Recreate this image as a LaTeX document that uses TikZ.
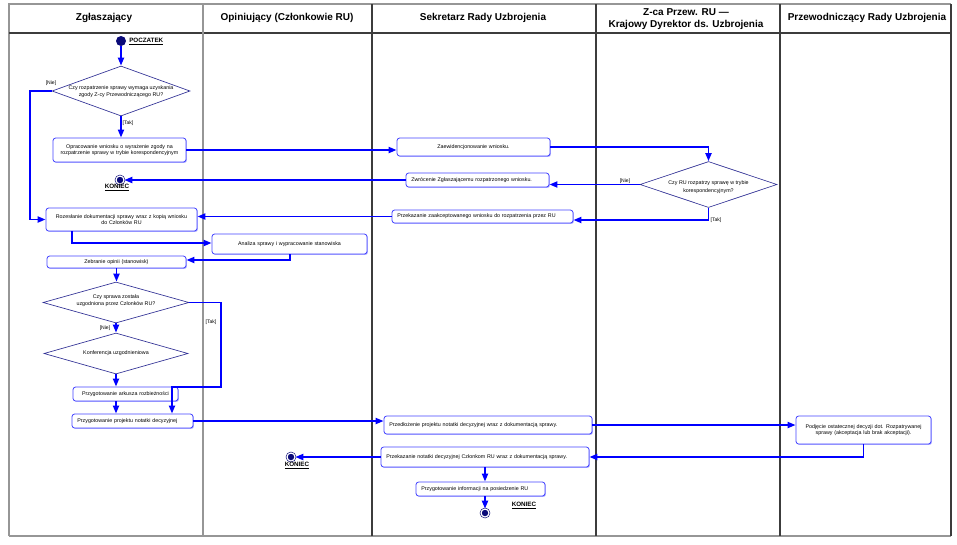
\documentclass[tikz,border=0pt]{standalone}
\usepackage{fontspec}
\setmainfont{Liberation Sans}
\usetikzlibrary{shapes.geometric,arrows.meta,shadows}
\definecolor{flowblue}{RGB}{0,0,255}
\definecolor{boxblue}{RGB}{70,70,255}
\definecolor{boxshade}{RGB}{175,175,255}
\definecolor{diaedge}{RGB}{50,50,150}
\definecolor{dotnavy}{RGB}{10,10,120}
\definecolor{lanegray}{RGB}{150,150,150}
\definecolor{lanedark}{RGB}{60,60,60}
\begin{document}
\begin{tikzpicture}[x=0.75pt,y=-0.75pt,
  hdr/.style={font=\fontsize{7.5}{9}\selectfont\bfseries, align=center, inner sep=0pt},
  box/.style={draw=boxblue, line width=0.6pt, rounded corners=2pt, fill=white,
    inner xsep=4pt, inner ysep=0pt, align=center, font=\fontsize{4}{5}\selectfont,
    drop shadow={shadow xshift=0.7pt, shadow yshift=-0.7pt, fill=boxshade, opacity=1}},
  boxL/.style={box, align=left},
  dia/.style={diamond, draw=diaedge, line width=0.5pt, inner sep=0pt},
  dtext/.style={align=center, inner sep=0pt, font=\fontsize{4}{5.5}\selectfont},
  startdot/.style={circle, fill=dotnavy, inner sep=0pt, minimum size=7.5pt},
  enddot/.style={circle, draw=dotnavy, fill=dotnavy, inner sep=0pt, minimum size=6pt,
    line width=0.45pt, double=white, double distance=0.9pt},
  endlbl/.style={font=\fontsize{4.7}{5}\selectfont\bfseries, inner sep=0pt},
  guard/.style={font=\fontsize{3.8}{4.5}\selectfont, inner sep=0pt},
  flow/.style={draw=flowblue, line width=1.4pt, -{Triangle[length=6pt,width=4.5pt]}}
]
\useasboundingbox[fill=white] (0,0) rectangle (957,544);

% frame and lanes
\draw[lanegray, line width=1.3pt] (9,536) -- (9,4) -- (951,4);
\draw[lanegray, line width=1.3pt] (9,536) -- (951,536);
\draw[lanedark, line width=0.9pt] (951,4) -- (951,536);
\draw[lanedark, line width=0.8pt] (9,33) -- (951,33);
\draw[lanegray, line width=1.5pt] (203,4) -- (203,536);
\draw[lanedark, line width=0.8pt] (372,4) -- (372,536);
\draw[lanedark, line width=0.8pt] (596,4) -- (596,536);
\draw[lanedark, line width=0.8pt] (780,4) -- (780,536);

% headers
\node[hdr] (h1) at (104,18) {Zgłaszający};
\node[hdr] (h2) at (287,18) {Opiniujący (Członkowie RU)};
\node[hdr] (h3) at (483,18) {Sekretarz Rady Uzbrojenia};
\node[hdr] (h4) at (686,19.5) {Z-ca Przew. RU —\\Krajowy Dyrektor ds. Uzbrojenia};
\node[hdr] (h5) at (867,18) {Przewodniczący Rady Uzbrojenia};

% start
\node[startdot] (start) at (121,41) {};
\node[endlbl, anchor=west] (poczL) at (129,42) {\underline{POCZATEK}};

% diamonds
\node[dia, minimum width=103.5pt, minimum height=37.5pt] (d1) at (121,91) {};
\node[dtext] (d1t) at (121,91.5) {Czy rozpatrzenie sprawy wymaga uzyskania\\zgody Z-cy Przewodniczącego RU?};
\node[dia, minimum width=109.5pt, minimum height=30.75pt] (d2) at (116,302.5) {};
\node[dtext] (d2t) at (116,300.5) {Czy sprawa została\\uzgodniona przez Członków RU?};
\node[dia, minimum width=108pt, minimum height=30.75pt] (d3) at (116,353.5) {};
\node[dtext] (d3t) at (116,353.5) {Konferencja uzgodnieniowa};
\node[dia, minimum width=102.75pt, minimum height=34.5pt] (d4) at (708.5,184.5) {};
\node[dtext] (d4t) at (708.5,187) {Czy RU rozpatrzy sprawę w trybie\\korespondencyjnym?};

% boxes
\node[box, text width=91.75pt, minimum height=18pt] (opr) at (119.5,150) {Opracowanie wniosku o wyrażenie zgody na\\rozpatrzenie sprawy w trybie korespondencyjnym};
\node[box, text width=105.25pt, minimum height=17.25pt] (roz) at (121.5,219.5) {Rozesłanie dokumentacji sprawy wraz z kopią wniosku\\do Członków RU};
\node[box, text width=108.25pt, minimum height=15pt] (ana) at (289.5,244) {Analiza sprawy i wypracowanie stanowiska};
\node[box, text width=96.25pt, minimum height=9pt] (zeb) at (116.5,262) {Zebranie opinii (stanowisk)};
\node[box, text width=70.75pt, minimum height=10.5pt] (ark) at (125.5,394) {Przygotowanie arkusza rozbieżności};
\node[boxL, text width=82.75pt, minimum height=10.5pt] (proj) at (132.5,421) {Przygotowanie projektu notatki decyzyjnej};
\node[box, text width=106.75pt, minimum height=13.5pt] (zaew) at (473.5,147) {Zaewidencjonowanie wniosku.};
\node[boxL, text width=99.25pt, minimum height=10.5pt] (zwr) at (477.5,180) {Zwrócenie Zgłaszającemu rozpatrzonego wniosku.};
\node[boxL, text width=127.75pt, minimum height=9.75pt] (przek) at (482.5,216.5) {Przekazanie zaakceptowanego wniosku do rozpatrzenia przez RU};
\node[boxL, text width=148pt, minimum height=13.5pt] (przed) at (488,425) {Przedłożenie projektu notatki decyzyjnej wraz z dokumentacją sprawy.};
\node[boxL, text width=148pt, minimum height=15pt] (notat) at (485,457) {Przekazanie notatki decyzyjnej Członkom RU wraz z dokumentacją sprawy.};
\node[boxL, text width=88.75pt, minimum height=10.5pt] (info) at (480.5,489) {Przygotowanie informacji na posiedzenie RU};
\node[box, text width=93.25pt, minimum height=21pt] (podj) at (863.5,430) {Podjęcie ostatecznej decyzji dot. Rozpatrywanej\\sprawy (akceptacja lub brak akceptacji).};

% ends
\node[enddot] (end1) at (120,180) {};
\node[endlbl] (end1L) at (117,188) {\underline{KONIEC}};
\node[enddot] (end2) at (291,457) {};
\node[endlbl] (end2L) at (297,466) {\underline{KONIEC}};
\node[enddot] (end3) at (485,513) {};
\node[endlbl] (end3L) at (524,506) {\underline{KONIEC}};

% guards
\node[guard] (g1) at (51,83) {[Nie]};
\node[guard] (g2) at (128,123) {[Tak]};
\node[guard] (g3) at (211,322) {[Tak]};
\node[guard] (g4) at (105,328) {[Nie]};
\node[guard] (g5) at (625,181) {[Nie]};
\node[guard] (g6) at (716,220) {[Tak]};

% helper coordinates
\coordinate (nieA) at (30,91);
\coordinate (k4) at (708.5,220);
\coordinate (r1) at (72,243);
\coordinate (a1) at (290,260);
\coordinate (t1) at (221,302.5);
\coordinate (t2) at (172,387);

% connectors
\draw[flow] (start) -- (d1.north);
\draw[flow] (d1.west) -- (nieA) |- (roz.west);
\draw[flow] (d1.south) -- (d1.south |- opr.north);
\draw[flow] (opr.east) -- (opr.east -| zaew.west);
\draw[flow] (zaew.east) -| (d4.north);
\draw[flow] (d4.west) -- (d4.west -| zwr.east);
\draw[flow] (zwr.west) -- (end1.east);
\draw[flow] (d4.south) -- (k4) -- (k4 -| przek.east);
\draw[flow] (przek.west) -- (przek.west -| roz.east);
\draw[flow] (r1 |- roz.south) -- (r1) -- (r1 -| ana.west);
\draw[flow] (a1 |- ana.south) -- (a1) -- (a1 -| zeb.east);
\draw[flow] (zeb.south) -- (zeb.south |- d2.north);
\draw[flow] (d2.south) -- (d3.north);
\draw[flow] (d2.east) -- (t1) |- (t2) -- (t2 |- proj.north);
\draw[flow] (d3.south) -- (d3.south |- ark.north);
\draw[flow] (d3.south |- ark.south) -- (d3.south |- proj.north);
\draw[flow] (proj.east) -- (proj.east -| przed.west);
\draw[flow] (przed.east) -- (przed.east -| podj.west);
\draw[flow] (podj.south) |- (notat.east);
\draw[flow] (notat.west) -- (end2.east);
\draw[flow] (notat.south) -- (notat.south |- info.north);
\draw[flow] (notat.south |- info.south) -- (end3.north);
\end{tikzpicture}
\end{document}
